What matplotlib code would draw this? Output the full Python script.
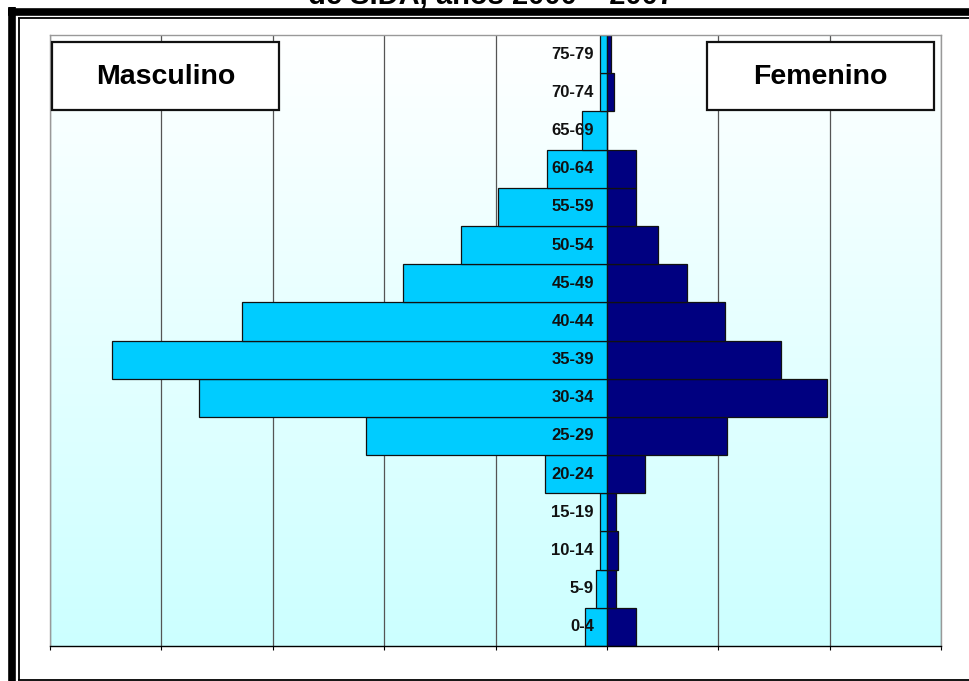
import numpy as np
import matplotlib
matplotlib.use("Agg")
import matplotlib.pyplot as plt
from matplotlib.patches import Rectangle
from matplotlib.lines import Line2D
import matplotlib.transforms as mtransforms

# Age groups, youngest at the bottom
age_groups = ["0-4", "5-9", "10-14", "15-19", "20-24", "25-29", "30-34", "35-39",
              "40-44", "45-49", "50-54", "55-59", "60-64", "65-69", "70-74", "75-79"]
masculino = [2.0, 1.0, 0.6, 0.6, 5.6, 21.6, 36.6, 44.4,
             32.8, 18.3, 13.1, 9.8, 5.4, 2.2, 0.6, 0.6]
femenino = [2.6, 0.8, 1.0, 0.8, 3.4, 10.8, 19.8, 15.6,
            10.6, 7.2, 4.6, 2.6, 2.6, 0.0, 0.6, 0.4]
grid_ticks = list(range(-50, 31, 10))

W, H = 969, 681
fig = plt.figure(figsize=(W / 100, H / 100), dpi=100)
fig.patch.set_facecolor("white")


def fx(px):
    return px / W


def fy(py):
    return 1 - py / H


# Plot area
ax = fig.add_axes([fx(50), fy(646), (941 - 50) / W, (646 - 35) / H])
ymin, ymax = -0.5, len(age_groups) - 0.5

# Vertical white-to-cyan gradient background (white at the top)
grad = np.linspace(0, 1, 256).reshape(-1, 1)
top = np.array([1.0, 1.0, 1.0])
bottom = np.array([0.80, 1.0, 1.0])
img = top[None, None, :] * (1 - grad[:, :, None]) + bottom[None, None, :] * grad[:, :, None]
ax.imshow(img, extent=(-50, 30, ymin, ymax), origin="upper", aspect="auto",
          zorder=0, interpolation="bilinear")
ax.set_xlim(-50, 30)
ax.set_ylim(ymin, ymax)

ax.set_xticks(grid_ticks)
ax.set_xticklabels([])
ax.set_yticks([])
ax.grid(axis="x", color="#555555", linewidth=0.9, zorder=1)
ax.tick_params(axis="x", direction="out", length=3, width=0.8, color="black")

y = np.arange(len(age_groups))
ax.barh(y, [-v for v in masculino], height=1.0, color="#00CCFF",
        edgecolor="#111111", linewidth=0.9, zorder=2)
ax.barh(y, femenino, height=1.0, color="#000080",
        edgecolor="#111111", linewidth=0.9, zorder=2)

# Age labels sit just left of the central axis
lab_tf = ax.transData + mtransforms.ScaledTranslation(-13 / 100, 0, fig.dpi_scale_trans)
for yi, lab in zip(y, age_groups):
    ax.text(0, yi, lab, transform=lab_tf, ha="right", va="center",
            fontsize=12, fontweight="bold", family="Liberation Sans",
            color="#111111", zorder=4)

for side in ["top", "left", "right"]:
    ax.spines[side].set_color("#999999")
    ax.spines[side].set_linewidth(1.0)
ax.spines["bottom"].set_color("black")
ax.spines["bottom"].set_linewidth(1.0)

# Sex labels in boxes
for (x0, x1, txt) in [(52, 279, "Masculino"), (707, 934, "Femenino")]:
    fig.patches.append(Rectangle((fx(x0), fy(110)), (x1 - x0) / W, (110 - 42) / H,
                                 transform=fig.transFigure, facecolor="white",
                                 edgecolor="#111111", linewidth=1.6, zorder=5))
    fig.text(fx((x0 + x1) / 2), fy(77), txt, ha="center", va="center",
             fontsize=20.5, fontweight="bold", family="Liberation Sans",
             color="black", zorder=6)

# Title (second line, mostly above the frame)
fig.text(fx(491), fy(4), "de SIDA, años 2000 – 2007", ha="center", va="baseline",
         fontsize=21, fontweight="bold", family="Liberation Sans", color="black")

# Chart frame: thick outer line with a thin inner line
fig.lines.append(Line2D([fx(11.5), fx(11.5)], [fy(7), fy(681)], transform=fig.transFigure,
                        color="black", linewidth=5.5, solid_capstyle="butt"))
fig.lines.append(Line2D([fx(8), fx(969)], [fy(12), fy(12)], transform=fig.transFigure,
                        color="black", linewidth=5.5, solid_capstyle="butt"))
fig.lines.append(Line2D([fx(18.5), fx(18.5)], [fy(17.5), fy(680)], transform=fig.transFigure,
                        color="black", linewidth=1.3, solid_capstyle="butt"))
fig.lines.append(Line2D([fx(18), fx(969)], [fy(17.5), fy(17.5)], transform=fig.transFigure,
                        color="black", linewidth=1.3, solid_capstyle="butt"))
fig.lines.append(Line2D([fx(18), fx(969)], [fy(679.5), fy(679.5)], transform=fig.transFigure,
                        color="black", linewidth=1.3, solid_capstyle="butt"))

fig.savefig("out.png", dpi=100)
